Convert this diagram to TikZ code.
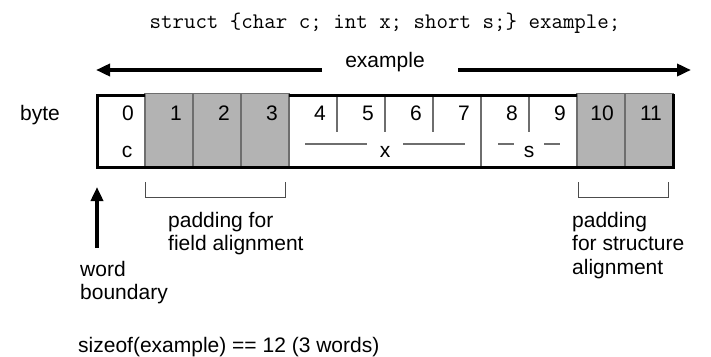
\documentclass[tikz,border=0pt]{standalone}
\usepackage{fontspec}
\setmainfont{Liberation Sans}
\usetikzlibrary{arrows.meta,calc}
\definecolor{padgray}{RGB}{179,179,179}
\definecolor{rulegray}{RGB}{110,110,110}
\begin{document}
\begin{tikzpicture}[x=1pt,y=-1pt,
  lbl/.style={font=\fontsize{21}{23.5}\selectfont, inner sep=0pt},
  num/.style={lbl, anchor=base east},
  note/.style={lbl, anchor=north west, align=left},
  divider/.style={draw=rulegray, line width=1.5pt},
  padcell/.style={fill=padgray, draw=rulegray, line width=1.5pt},
  frame/.style={line width=3pt},
  bracket/.style={draw=black!70, line width=1pt},
  bigarrow/.style={line width=4.5pt, -{Triangle[length=14pt,width=12pt]}}]
\useasboundingbox (0,0) rectangle (711,356);

% declaration
\node[font=\fontsize{22.3}{24}\selectfont\ttfamily, inner sep=0pt, anchor=base]
  (decl) at (385,28) {struct \{char c; int x; short s;\} example;};

% extent of the whole structure
\node[lbl, anchor=base] (ex) at (385,67.5) {example};
\coordinate (exL) at (96,70);
\coordinate (exR) at (691,70);
\coordinate (exLs) at (322,70);
\coordinate (exRs) at (458,70);
\draw[bigarrow] (exLs) -- (exL);
\draw[bigarrow] (exRs) -- (exR);

% padding bytes
\foreach \a in {145,193,241,577,625}
  \draw[padcell] (\a,93.5) rectangle (\a+48,167);

% byte dividers inside x and s
\foreach \a in {337,385,433,529}
  \draw[divider] (\a,95) -- (\a,132);
\draw[divider] (481,95) -- (481,167);

% outer frame
\draw[frame] (145,95) -- (97,95) -- (97,167) -- (673,167) -- (673,93.5);
\draw[frame] (289,95) -- (577,95);

% byte numbers
\node[lbl, anchor=base west] (byte) at (20,120) {byte};
\foreach \i in {0,...,11}
  \node[num] (n\i) at (97+48*\i+37,120.5) {\i};

% field names
\node[lbl, anchor=base] (fc) at (127,157) {c};
\node[lbl, anchor=base] (fx) at (385,157) {x};
\node[lbl, anchor=base] (fs) at (529,157) {s};
\draw[divider, line width=1.2pt] (305,144) -- (367,144);
\draw[divider, line width=1.2pt] (403,144) -- (465,144);
\draw[divider, line width=1.2pt] (498,144) -- (514,144);
\draw[divider, line width=1.2pt] (544,144) -- (560,144);

% padding brackets
\draw[bracket] (145,182) -- (145,197) -- (285,197) -- (285,182);
\draw[bracket] (578,182) -- (578,197) -- (668,197) -- (668,182);

\node[note] (padf) at (168,212) {padding for\\field alignment};
\node[note] (pads) at (572,212) {padding\\for structure\\alignment};

% word boundary marker
\node[note] (wb) at (80,261) {word\\boundary};
\coordinate (wbtip) at (97,187);
\draw[bigarrow] (97,248) -- (wbtip);

% total size
\node[lbl, anchor=base west] (size) at (78,352) {sizeof(example) == 12 (3 words)};
\end{tikzpicture}
\end{document}
